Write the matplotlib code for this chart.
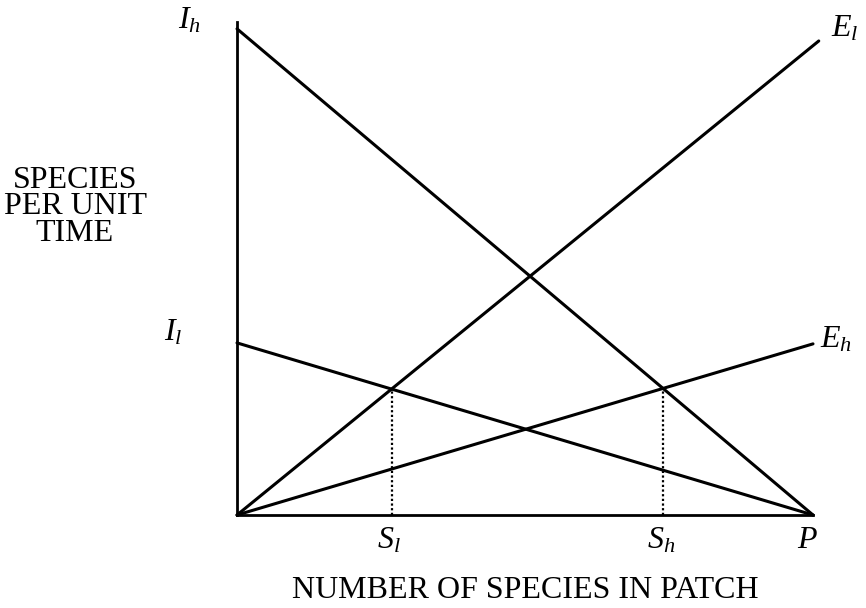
import numpy as np
import matplotlib
matplotlib.use("Agg")
import matplotlib.pyplot as plt

plt.rcParams["font.family"] = "Liberation Serif"
plt.rcParams["mathtext.fontset"] = "custom"
plt.rcParams["mathtext.rm"] = "Liberation Serif"
plt.rcParams["mathtext.it"] = "Liberation Serif:italic"

# patch size P, immigration intercepts and extinction end points
P = 1.0
I_h = 1.0
I_l = 0.354
E_l_end = (1.01, 0.975)
E_h_end = (1.0, 0.352)

fig = plt.figure(figsize=(8.66, 6.08), dpi=100)
ax = fig.add_axes([237 / 866, 93 / 608, 576 / 866, 493 / 608])
ax.set_xlim(0, P)
ax.set_ylim(0, 1.014)

lw = 2.2
ax.plot([0, P], [I_h, 0], color="black", lw=lw, solid_capstyle="round", clip_on=False)
ax.plot([0, P], [I_l, 0], color="black", lw=lw, solid_capstyle="round", clip_on=False)
ax.plot([0, E_l_end[0]], [0, E_l_end[1]], color="black", lw=lw, solid_capstyle="round", clip_on=False)
ax.plot([0, E_h_end[0]], [0, E_h_end[1]], color="black", lw=lw, solid_capstyle="round", clip_on=False)

# equilibria: immigration = extinction
k_l = E_l_end[1] / E_l_end[0]
k_h = E_h_end[1] / E_h_end[0]
S_l = I_l / (I_l / P + k_l)
S_h = I_h / (I_h / P + k_h)
ax.plot([S_l, S_l], [0, k_l * S_l], color="black", lw=1.6, ls=(0, (1, 1.1)))
ax.plot([S_h, S_h], [0, k_h * S_h], color="black", lw=1.6, ls=(0, (1, 1.1)))

for s in ["top", "right"]:
    ax.spines[s].set_visible(False)
for s in ["left", "bottom"]:
    ax.spines[s].set_linewidth(2.0)
ax.set_xticks([])
ax.set_yticks([])

fs = 23
ax.text(-0.083, I_h + 0.016, r"$I_h$", fontsize=fs, ha="center", va="center")
ax.text(-0.11, I_l + 0.02, r"$I_l$", fontsize=fs, ha="center", va="center")
ax.text(E_l_end[0] + 0.045, E_l_end[1] + 0.025, r"$E_l$", fontsize=fs, ha="center", va="center")
ax.text(E_h_end[0] + 0.04, E_h_end[1] + 0.008, r"$E_h$", fontsize=fs, ha="center", va="center")
ax.text(S_l - 0.004, -0.052, r"$S_l$", fontsize=fs, ha="center", va="center")
ax.text(S_h - 0.004, -0.052, r"$S_h$", fontsize=fs, ha="center", va="center")
ax.text(P - 0.01, -0.052, r"$P$", fontsize=fs, ha="center", va="center")

fig.text(525 / 866, 1 - 590 / 608, "NUMBER OF SPECIES IN PATCH", fontsize=fs,
         ha="center", va="center")
fig.text(75 / 866, 1 - 207 / 608, "SPECIES\nPER UNIT\nTIME", fontsize=fs,
         ha="center", va="center", linespacing=0.9)

fig.savefig("out.png", dpi=100)
